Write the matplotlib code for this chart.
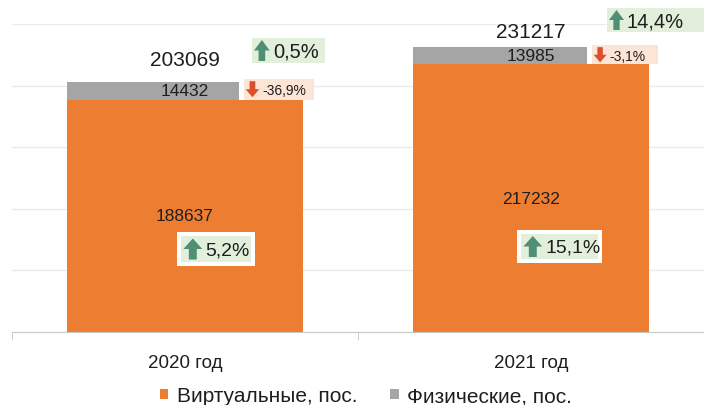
import matplotlib
matplotlib.use('Agg')
import matplotlib.pyplot as plt
from matplotlib.patches import Rectangle, Polygon

categories = ['2020 год', '2021 год']
virtual = [188637, 217232]
physical = [14432, 13985]
totals = [203069, 231217]
virtual_change = ['5,2%', '15,1%']
physical_change = ['-36,9%', '-3,1%']
total_change = ['0,5%', '14,4%']
series_names = ['Виртуальные, пос.', 'Физические, пос.']

plt.rcParams['font.family'] = ['Liberation Sans', 'DejaVu Sans']

W, H = 704, 406
fig = plt.figure(figsize=(W / 100, H / 100), dpi=100)
ax = fig.add_axes([12 / W, 73 / H, (W - 12) / W, 308 / H])

xs = list(range(len(categories)))
bw = 0.68
ORANGE, GRAY = '#ed7d31', '#a5a5a5'
TXT = '#1e1e1e'
ax.bar(xs, virtual, bw, color=ORANGE, label=series_names[0], zorder=2)
ax.bar(xs, physical, bw, bottom=virtual, color=GRAY, label=series_names[1], zorder=2)

ax.set_ylim(0, 250000)
ax.set_xlim(-0.5, 1.5 - 10 / 351)
ax.set_yticks(range(0, 250001, 50000))
ax.set_yticklabels([])
ax.tick_params(axis='y', length=0)
ax.grid(axis='y', color='#ebebeb', lw=1, zorder=0)
for s in ['top', 'right', 'left']:
    ax.spines[s].set_visible(False)
ax.spines['bottom'].set_color('#c8c8c8')
ax.set_xticks(xs)
ax.set_xticklabels(categories, fontsize=13.5, color=TXT)
ax.tick_params(axis='x', which='major', length=0, pad=16)
ax.set_xticks([-0.5, 0.5, 1.5], minor=True)
ax.tick_params(axis='x', which='minor', length=6, color='#c8c8c8')

fs_leg = 15
fig.legend(loc='center', bbox_to_anchor=(366 / W, 1 - 397 / H), ncol=2, frameon=False,
           fontsize=fs_leg, handlelength=0.4, handleheight=0.4, handletextpad=0.4,
           columnspacing=1.6, labelcolor=TXT, borderaxespad=0)

fig.canvas.draw()


def topx(xd, yd):
    d = ax.transData.transform((xd, yd))
    return d[0], H - d[1]


def F(xp, yp):
    return xp / W, 1 - yp / H


def badge(left, top, w, h, up, text, fs, border=1.5, aratio=0.85, ah_max=21, lborder=None):
    face = '#e2efda' if up else '#fce4d6'
    acol = '#4f8f74' if up else '#d9502b'
    lb = border if lborder is None else lborder
    x0, y0 = F(left - lb, top + h + border)
    fig.patches.append(Rectangle((x0, y0), (w + lb + border) / W, (h + 2 * border) / H,
                                 transform=fig.transFigure, fc='white', ec='none', zorder=5))
    x0, y0 = F(left, top + h)
    fig.patches.append(Rectangle((x0, y0), w / W, h / H, transform=fig.transFigure,
                                 fc=face, ec='none', zorder=6))
    ah = min(h - 4, ah_max)
    aw = ah * aratio
    ax0 = left + 2
    cy = top + h / 2
    t, b = cy - ah / 2, cy + ah / 2
    sw = aw * 0.42
    mid = ax0 + aw / 2
    if up:
        pts = [(mid, t), (ax0 + aw, t + ah * 0.5), (mid + sw / 2, t + ah * 0.5),
               (mid + sw / 2, b), (mid - sw / 2, b), (mid - sw / 2, t + ah * 0.5),
               (ax0, t + ah * 0.5)]
    else:
        pts = [(mid, b), (ax0 + aw, b - ah * 0.5), (mid + sw / 2, b - ah * 0.5),
               (mid + sw / 2, t), (mid - sw / 2, t), (mid - sw / 2, b - ah * 0.5),
               (ax0, b - ah * 0.5)]
    fig.patches.append(Polygon([F(*p) for p in pts], closed=True, transform=fig.transFigure,
                               fc=acol, ec='none', zorder=7))
    fig.text(*F(ax0 + aw + 3, cy + 1), text, fontsize=fs, color=TXT,
             ha='left', va='center', zorder=8)


for i in xs:
    ax.text(i, virtual[i] / 2, f'{virtual[i]}', ha='center', va='center',
            fontsize=12.5, color=TXT, zorder=4)
    ax.text(i, virtual[i] + physical[i] / 2, f'{physical[i]}', ha='center', va='center',
            fontsize=12.5, color=TXT, zorder=4)
    lx, ty = topx(i - bw / 2, totals[i])
    rx, _ = topx(i + bw / 2, totals[i])
    _, vy = topx(i, virtual[i])
    # physical change badge, right of the gray segment
    badge(rx - 59 + 2 * i, ty - 3 + i, 70 - 4 * i, vy - ty + 3 - i, False, physical_change[i],
          10, border=0, lborder=5, aratio=0.85, ah_max=16)
    # virtual change badge inside the orange bar
    badge(lx + 114 - 6 * i, 237 - 2 * i, 70 + 7 * i, 26 - 1 * i, True, virtual_change[i], 14,
          border=4, aratio=0.9)

ax.text(0, totals[0] + 18500, f'{totals[0]}', ha='center', va='center', fontsize=15,
        color=TXT, zorder=4)
ax.text(1, totals[1] + 12500, f'{totals[1]}', ha='center', va='center', fontsize=15,
        color=TXT, zorder=4)
badge(252, 39, 73, 25, True, total_change[0], 14.5, border=0, aratio=0.75)
badge(607, 9, 100, 24, True, total_change[1], 14.5, border=0, aratio=0.75)

fig.savefig('out.png', dpi=100, facecolor='white')
